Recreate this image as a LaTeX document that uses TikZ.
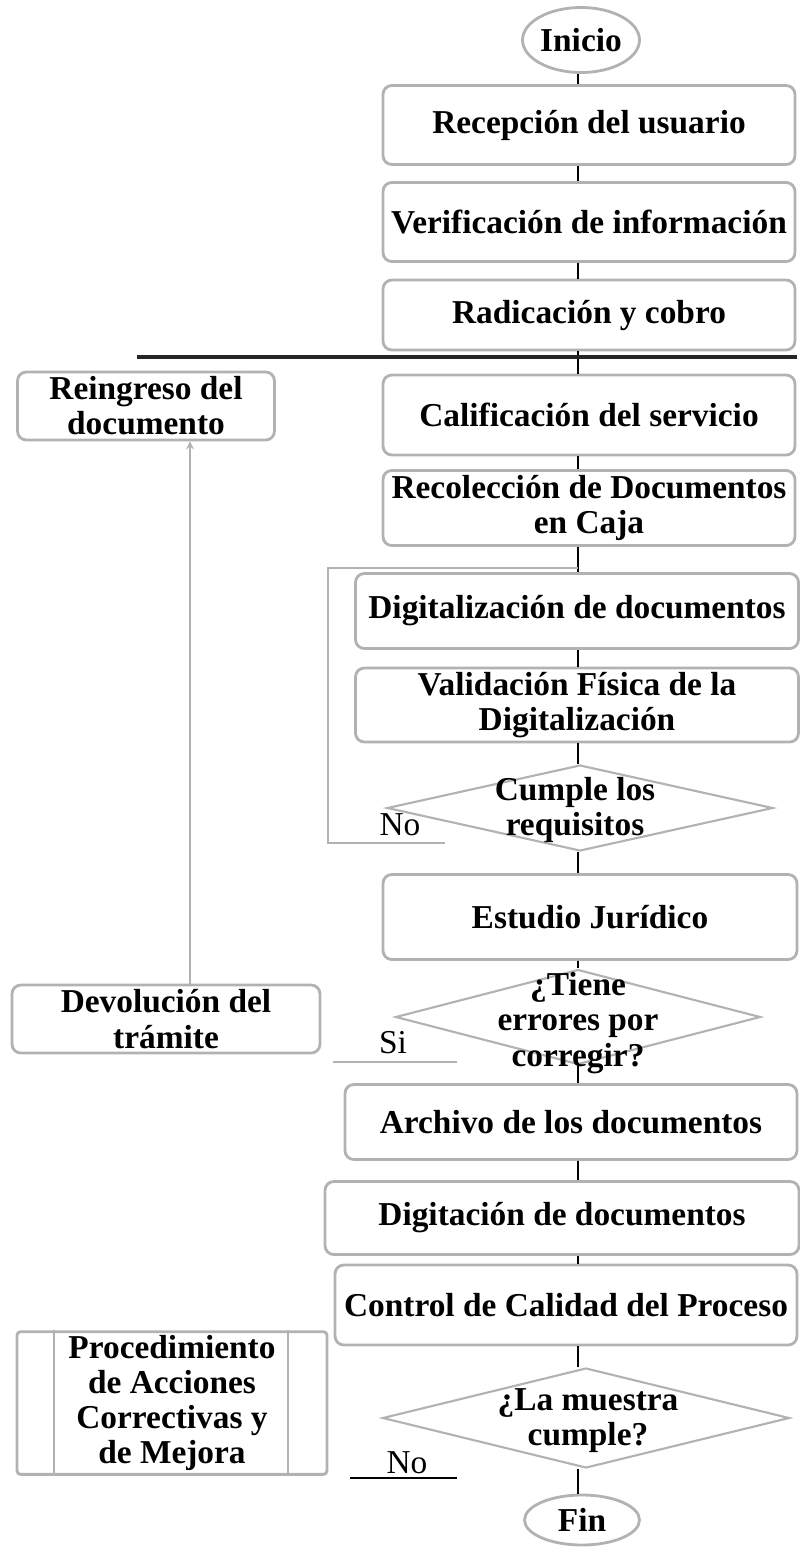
\documentclass[tikz,border=0pt]{standalone}
\usepackage{fontspec}
\setmainfont{Liberation Serif}
\usetikzlibrary{shapes.geometric}
\tikzset{>=stealth}

\begin{document}
\begin{tikzpicture}[x=0.02cm, y=-0.02cm,
    paso/.style={draw=gray!60, line width=1.6pt, rounded corners=5pt, align=center,
        font=\bfseries\fontsize{19}{20}\selectfont, inner sep=2pt},
    terminal/.style={draw=gray!60, line width=1.6pt, ellipse, inner sep=0pt,
        font=\bfseries\fontsize{19}{20}\selectfont},
    decision/.style={draw=gray!60, line width=1.2pt, diamond, inner sep=0pt},
    pregunta/.style={align=center, font=\bfseries\fontsize{19}{20}\selectfont, inner sep=0pt},
    rotulo/.style={font=\fontsize{19}{20}\selectfont, inner sep=0pt},
    link/.style={line width=0.8pt}]
    \useasboundingbox (0,0) rectangle (799,1549);

    % main column
    \node[terminal, minimum width=2.34cm, minimum height=1.30cm] (inicio) at (581,40) {Inicio};
    \node[paso, minimum width=8.24cm, minimum height=1.58cm] (recepcion) at (589,125) {Recepción del usuario};
    \node[paso, minimum width=8.24cm, minimum height=1.58cm] (verif) at (589,222) {Verificación de información};
    \node[paso, minimum width=8.24cm, minimum height=1.40cm] (radic) at (589,315) {Radicación y cobro};
    \node[paso, minimum width=8.24cm, minimum height=1.60cm] (calif) at (589,415) {Calificación del servicio};
    \node[paso, minimum width=8.24cm, minimum height=1.50cm] (recol) at (589,508) {Recolección de Documentos\\en Caja};
    \node[paso, minimum width=8.86cm, minimum height=1.50cm] (digital) at (577,611) {Digitalización de documentos};
    \node[paso, minimum width=8.86cm, minimum height=1.48cm] (valid) at (577,705) {Validación Física de la\\Digitalización};
    \node[decision, minimum width=7.72cm, minimum height=1.72cm] (cumple) at (580,808) {};
    \node[pregunta] (cumpletxt) at (575,810) {Cumple los\\requisitos};
    \node[paso, minimum width=8.28cm, minimum height=1.70cm] (estudio) at (590,917) {Estudio Jurídico};
    \node[decision, minimum width=7.30cm, minimum height=1.90cm] (tiene) at (578,1017) {};
    \node[pregunta] (tienetxt) at (578,1023) {¿Tiene\\errores por\\corregir?};
    \node[paso, minimum width=9.04cm, minimum height=1.50cm] (archivo) at (571,1122) {Archivo de los documentos};
    \node[paso, minimum width=9.48cm, minimum height=1.46cm] (digitac) at (562,1218) {Digitación de documentos};
    \node[paso, minimum width=9.24cm, minimum height=1.60cm] (control) at (566,1305) {Control de Calidad del Proceso};
    \node[decision, minimum width=8.14cm, minimum height=2.00cm] (muestra) at (586,1418) {};
    \node[pregunta] (muestratxt) at (588,1421) {¿La muestra\\cumple?};
    \node[terminal, minimum width=2.30cm, minimum height=1.00cm] (fin) at (582,1520) {Fin};

    % left column
    \node[paso, minimum width=5.14cm, minimum height=1.36cm] (reingreso) at (146,406) {Reingreso del\\documento};
    \node[paso, minimum width=6.16cm, minimum height=1.36cm] (devol) at (166,1019) {Devolución del\\trámite};
    \node[paso, rounded corners=2pt, minimum width=6.20cm, minimum height=2.80cm] (proced) at (172,1403)
        {Procedimiento\\de Acciones\\Correctivas y\\de Mejora};
    \draw[draw=gray!60, line width=1.2pt] ([xshift=0.76cm]proced.north west) -- ([xshift=0.76cm]proced.south west);
    \draw[draw=gray!60, line width=1.2pt] ([xshift=-0.80cm]proced.north east) -- ([xshift=-0.80cm]proced.south east);

    % answers
    \node[rotulo] (no1) at (400,825) {No};
    \node[rotulo] (si) at (393,1043) {Si};
    \node[rotulo] (no2) at (407,1463) {No};

    % connectors
    \coordinate (eje) at (578,0);
    \foreach \a/\b in {inicio/recepcion, recepcion/verif, verif/radic, radic/calif, calif/recol,
        recol/digital, digital/valid, valid/cumple, cumple/estudio, estudio/tiene,
        tiene/archivo, archivo/digitac, digitac/control, control/muestra, muestra/fin}
        \draw[link] (eje |- \a.south) -- (eje |- \b.north);

    \coordinate (vuelta) at (137,357);
    \coordinate (vueltafin) at (797,357);
    \draw[line width=2pt, gray!30!black] (vuelta) -- (vueltafin);

    \coordinate (lazo) at (328,568);
    \draw[draw=gray!60, line width=1.2pt] (445,843) coordinate (nofin) -- (nofin -| lazo) -- (lazo) -- (eje |- lazo);
    \draw[draw=gray!60, line width=1.2pt] (457,1062) coordinate (sifin) -- (333,1062);
    \draw[line width=1pt] (350,1478) coordinate (no2fin) -- (457,1478);

    \coordinate (retorno) at (190,0);
    \draw[->, draw=gray!60, line width=1pt] (retorno |- devol.north) -- (retorno |- reingreso.south);
\end{tikzpicture}
\end{document}
